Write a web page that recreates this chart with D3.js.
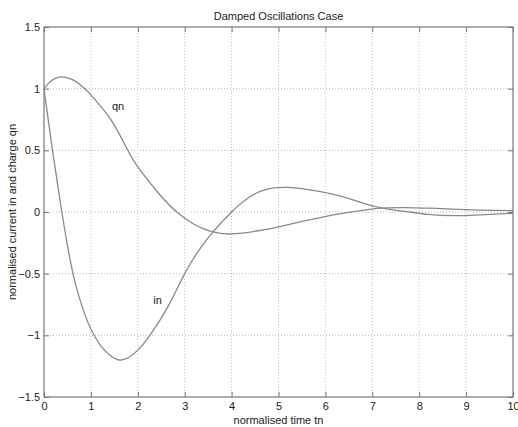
<!DOCTYPE html>
<html>
<head>
<meta charset="utf-8">
<script src="https://cdn.jsdelivr.net/npm/d3@7"></script>
<style>
  body { margin: 0; background: #fff; }
  svg { display: block; }
</style>
</head>
<body>
<svg id="chart" width="518" height="427"></svg>
<script>
// ---- data ----
const title = "Damped Oscillations Case";
const xLabel = "normalised time tn";
const yLabel = "normalised current in and charge qn";
const xTicks = [0, 1, 2, 3, 4, 5, 6, 7, 8, 9, 10];
const yTicks = [-1.5, -1, -0.5, 0, 0.5, 1, 1.5];

const qnT = [0, 0.1, 0.2, 0.35, 0.5, 0.65, 0.84, 1.0, 1.2, 1.45, 1.76, 2.0, 2.47, 2.83, 3.18, 3.54, 4.0, 4.6, 5.0, 5.46, 5.9, 6.3, 6.9, 7.3, 7.7, 8.2, 8.7, 9.3, 10];
const qnV = [1.0, 1.045, 1.075, 1.095, 1.088, 1.065, 1.01, 0.95, 0.86, 0.735, 0.52, 0.365, 0.14, 0.0, -0.095, -0.155, -0.178, -0.15, -0.12, -0.08, -0.045, -0.015, 0.02, 0.034, 0.036, 0.031, 0.024, 0.016, 0.01];

const inT = [0, 0.1, 0.2, 0.3, 0.38, 0.5, 0.63, 0.75, 0.87, 1.0, 1.2, 1.4, 1.6, 1.8, 2.0, 2.2, 2.5, 2.75, 3.0, 3.25, 3.5, 3.7, 4.0, 4.3, 4.6, 4.9, 5.2, 5.5, 5.9, 6.3, 6.7, 7.0, 7.4, 7.8, 8.2, 8.7, 9.2, 9.6, 10];
const inV = [1.0, 0.72, 0.45, 0.2, 0.0, -0.27, -0.52, -0.69, -0.83, -0.95, -1.08, -1.16, -1.2, -1.18, -1.12, -1.03, -0.86, -0.69, -0.5, -0.34, -0.21, -0.12, 0.0, 0.1, 0.165, 0.195, 0.2, 0.19, 0.165, 0.13, 0.085, 0.05, 0.02, 0.0, -0.02, -0.03, -0.025, -0.018, -0.01];

const labels = [
  { text: "qn", t: 1.58, v: 0.85 },
  { text: "in", t: 2.42, v: -0.72 }
];

// ---- drawing ----
const svg = d3.select("#chart");
const FONT = "'Liberation Sans', Arial, sans-serif";
const TEXT = "#222";
const margin = { left: 44, right: 5, top: 27, bottom: 30 };
const W = 518, H = 427;
const x = d3.scaleLinear().domain([0, 10]).range([margin.left, W - margin.right]);
const y = d3.scaleLinear().domain([-1.5, 1.5]).range([H - margin.bottom, margin.top]);

const gridColor = "#bbb";
svg.append("g").selectAll("line").data(xTicks.slice(1, -1)).join("line")
  .attr("x1", d => x(d)).attr("x2", d => x(d))
  .attr("y1", y(-1.5)).attr("y2", y(1.5))
  .attr("stroke", gridColor).attr("stroke-width", 1).attr("stroke-dasharray", "1,2");
svg.append("g").selectAll("line").data(yTicks.slice(1, -1)).join("line")
  .attr("y1", d => y(d)).attr("y2", d => y(d))
  .attr("x1", x(0)).attr("x2", x(10))
  .attr("stroke", gridColor).attr("stroke-width", 1).attr("stroke-dasharray", "1,2");

const axisColor = "#777";
function styleAxis(g) {
  g.select(".domain").remove();
  g.selectAll(".tick line").attr("stroke", axisColor);
  g.selectAll(".tick text").attr("font-size", "11px").attr("fill", TEXT).attr("font-family", FONT);
}
svg.append("g").attr("transform", `translate(0,${y(-1.5)})`)
  .call(d3.axisBottom(x).tickValues(xTicks).tickSize(-5).tickPadding(5).tickFormat(d3.format("d")))
  .call(styleAxis);
svg.append("g").attr("transform", `translate(0,${y(1.5)})`)
  .call(d3.axisTop(x).tickValues(xTicks).tickSize(-5).tickFormat(""))
  .call(styleAxis);
svg.append("g").attr("transform", `translate(${x(0)},0)`)
  .call(d3.axisLeft(y).tickValues(yTicks).tickSize(-5).tickPadding(4).tickFormat(d => d3.format("")(d)))
  .call(styleAxis);
svg.append("g").attr("transform", `translate(${x(10)},0)`)
  .call(d3.axisRight(y).tickValues(yTicks).tickSize(-5).tickFormat(""))
  .call(styleAxis);

svg.append("rect")
  .attr("x", x(0)).attr("y", y(1.5))
  .attr("width", x(10) - x(0)).attr("height", y(-1.5) - y(1.5))
  .attr("fill", "none").attr("stroke", axisColor).attr("stroke-width", 1.2);

const line = d3.line().x(d => x(d[0])).y(d => y(d[1])).curve(d3.curveNatural);
const curveColor = "#8a8a8a";
svg.append("path").datum(qnT.map((t, i) => [t, qnV[i]]))
  .attr("d", line).attr("fill", "none").attr("stroke", curveColor).attr("stroke-width", 1.3);
svg.append("path").datum(inT.map((t, i) => [t, inV[i]]))
  .attr("d", line).attr("fill", "none").attr("stroke", curveColor).attr("stroke-width", 1.3);

svg.append("g").selectAll("text").data(labels).join("text")
  .attr("x", d => x(d.t)).attr("y", d => y(d.v))
  .attr("text-anchor", "middle").attr("dominant-baseline", "middle")
  .attr("font-family", FONT).attr("fill", TEXT)
  .attr("font-size", "11px").text(d => d.text);

svg.append("text").attr("x", (x(0) + x(10)) / 2).attr("y", 20)
  .attr("text-anchor", "middle").attr("font-size", "11px")
  .attr("font-family", FONT).attr("fill", TEXT).text(title);
svg.append("text").attr("x", (x(0) + x(10)) / 2).attr("y", 424)
  .attr("text-anchor", "middle").attr("font-size", "11px")
  .attr("font-family", FONT).attr("fill", TEXT).text(xLabel);
svg.append("text").attr("transform", `translate(16,${(y(-1.5) + y(1.5)) / 2}) rotate(-90)`)
  .attr("text-anchor", "middle").attr("font-size", "11px")
  .attr("font-family", FONT).attr("fill", TEXT).text(yLabel);
</script>
</body>
</html>
